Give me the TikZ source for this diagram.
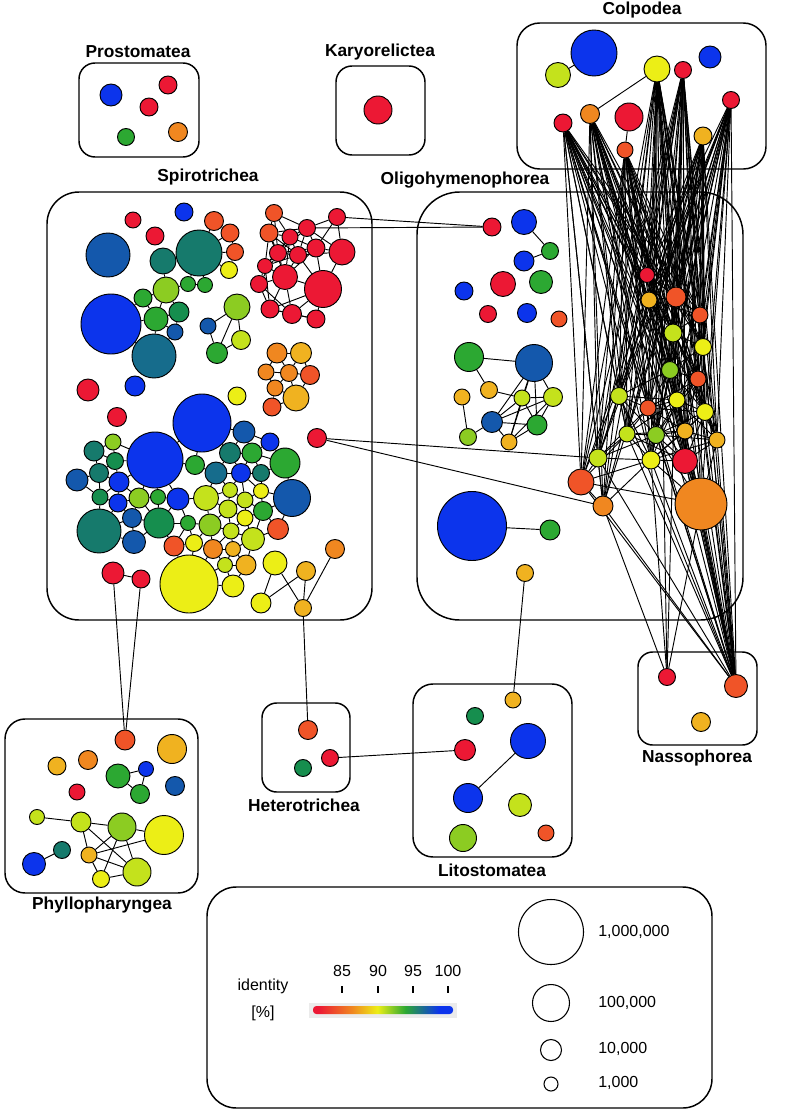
\documentclass[tikz,border=0pt]{standalone}
\usepackage{fontspec}
\setmainfont{Liberation Sans}
\pgfdeclarelayer{bg}
\pgfsetlayers{bg,main}
\definecolor{cRD}{RGB}{236,24,52}
\definecolor{cORD}{RGB}{240,84,40}
\definecolor{cOR}{RGB}{240,135,32}
\definecolor{cLOR}{RGB}{240,178,32}
\definecolor{cYL}{RGB}{236,238,22}
\definecolor{cYG}{RGB}{196,226,28}
\definecolor{cLG}{RGB}{140,204,34}
\definecolor{cGR}{RGB}{44,168,50}
\definecolor{cDG}{RGB}{22,142,78}
\definecolor{cTL}{RGB}{22,122,108}
\definecolor{cTB}{RGB}{22,108,140}
\definecolor{cDB}{RGB}{20,88,172}
\definecolor{cBL}{RGB}{12,52,236}
\pgfdeclarehorizontalshading{idbar}{100bp}{color(0bp)=(cRD); color(27bp)=(cRD); color(39bp)=(cOR); color(48bp)=(cYL); color(58bp)=(cGR); color(70bp)=(cBL); color(100bp)=(cBL)}
\tikzset{
 nd/.style={circle, draw=black, line width=0.7pt, inner sep=0pt, minimum size={1.5pt*#1}},
 edge/.style={black, line width=0.7pt},
 grp/.style={draw=black, line width=1.1pt},
 lab/.style={font=\fontsize{13}{15}\selectfont\bfseries, inner sep=0pt},
 leg/.style={font=\fontsize{12}{14}\selectfont, inner sep=0pt},
 ring/.style={circle, draw=black, line width=0.8pt, inner sep=0pt, minimum size=#1}
}
\newcommand\mknodes[2]{\foreach \a/\ax/\ay/\ar/\ac in #2 {\node[nd=\ar, fill=\ac] (#1\a) at (\ax,\ay) {};}}
\newcommand\prox[3]{\foreach \a/\ax/\ay/\ar/\ac in #1 {\foreach \b/\bx/\by/\br/\bc in #1 {\ifnum\a<\b\relax\pgfmathsetmacro\dd{veclen(\ax-\bx,\ay-\by)-\ar-\br}\ifdim\dd pt<#3pt\relax\draw[edge] (#2\a) -- (#2\b);\fi\fi}}}
\def\PL{1/111/95/11/cBL, 2/168/85/9/cRD, 3/149/107/9/cRD, 4/126/137/8.5/cGR, 5/178/132/9.5/cOR}
\def\CL{1/594/53/23/cBL, 2/558/75/12.5/cYG, 3/657/69/13/cYL, 4/683/70/8.5/cRD, 5/710/57/11/cBL, 6/731/100/8.5/cRD, 7/703/136/9/cLOR, 8/563/123/9/cRD, 9/590/114/9.5/cOR, 10/629/117/14/cRD, 11/625/150/8/cORD}
\def\SpZ{1/133/220/8/cRD, 2/184/212/9/cBL, 3/155/236/9/cRD, 4/108/255/22/cDB, 5/88/390/11/cRD, 6/135/386/10/cBL, 7/117/417/9.5/cRD, 8/237/396/9/cYL, 9/317/438/9.5/cRD}
\def\SpA{10/214/221/9.5/cORD, 11/230/233/9/cORD, 12/235/252/8.5/cORD, 13/229/270/8.5/cYL, 14/199/253/23/cTL, 15/163/261/13/cTL, 16/188/284/7.5/cGR, 17/205/285/7.5/cGR, 18/166/290/13/cLG, 19/143/298/9/cGR, 20/111/324/30/cBL, 21/156/319/12/cGR, 22/179/312/10/cDG, 23/175/332/8/cDB, 24/154/356/22/cTB}
\def\SpB{25/208/326/8/cDB, 26/237/307/13/cLG, 27/241/340/9.5/cYG, 28/217/353/10.5/cGR}
\def\SpR{29/337/217/8.5/cRD, 30/274/213/8.5/cORD, 31/269/233/9/cORD, 32/290/237/8/cRD, 33/307/228/8.5/cRD, 34/316/248/9/cRD, 35/342/252/13/cRD, 36/278/253/8.5/cRD, 37/298/255/8.5/cRD, 38/265/266/7.5/cRD, 39/285/277/12.5/cRD, 40/323/289/18.5/cRD, 41/259/284/8.5/cRD, 42/270/309/9/cRD, 43/292/314/9.5/cRD, 44/316/319/9/cRD}
\def\SpO{45/277/353/10/cOR, 46/301/353/10.5/cLOR, 47/266/372/8/cOR, 48/289/373/8.5/cOR, 49/310/375/9.5/cORD, 50/275/388/8/cOR, 51/296/398/13/cLOR, 52/272/407/9/cORD}
\def\SpD{53/202/423/29/cBL, 54/155/460/28/cBL, 55/244/432/11/cDB, 56/270/442/9/cBL, 57/285/463/15/cGR, 58/230/453/10.5/cTL, 59/252/453/10/cGR, 60/195/465/9.5/cGR, 61/216/473/11/cTB, 62/241/473/9.5/cBL, 63/261/473/8.5/cTL, 64/292/498/18.5/cDB, 65/113/442/8/cLG, 66/94/451/10/cTL, 67/115/461/8.5/cDG, 68/77/480/11/cDB, 69/99/473/9.5/cTL, 70/119/482/10/cBL, 71/100/497/8/cDG, 72/118/503/9/cBL, 73/139/498/10/cLG, 74/158/497/7.5/cGR, 75/178/499/11/cBL, 76/206/498/12.5/cYG, 77/230/490/7.5/cYG, 78/261/491/7.5/cYL, 79/245/500/8/cYG, 80/228/509/9/cYG, 81/245/518/8/cYL, 82/263/511/9.5/cGR, 83/99/531/22/cTL, 84/132/518/9.5/cDB, 85/159/523/15/cDG, 86/134/542/11.5/cDB, 87/188/523/7.5/cGR, 88/210/525/11/cLG, 89/231/531/8/cYG, 90/253/539/11.5/cYG, 91/278/529/10.5/cORD, 92/174/546/10/cORD, 93/194/543/8.5/cYL, 94/213/549/9.5/cOR, 95/233/549/7.5/cLOR, 96/225/565/7.5/cYG, 97/246/565/10/cLOR, 98/189/584/29/cYL, 99/233/586/11/cYL}
\def\SpE{100/275/563/12/cYL, 101/306/571/9.5/cLOR, 102/335/549/9.5/cOR, 103/261/603/10/cYL, 104/303/608/8.5/cLOR}
\def\SpF{105/113/573/11/cRD, 106/141/579/9/cRD}
\def\OL{1/492/227/9/cRD, 2/524/222/12.5/cBL, 3/550/251/8.5/cGR, 4/524/261/10/cBL, 5/541/282/11.5/cGR, 6/503/284/12.5/cRD, 7/464/291/9/cBL, 8/488/314/8.5/cRD, 9/527/313/9.5/cBL, 10/559/319/8/cORD, 11/469/357/14.5/cGR, 12/534/363/18.5/cDB, 13/489/390/8.5/cLOR, 14/462/397/8/cLOR, 15/522/398/8/cYG, 16/553/397/9.5/cYG, 17/492/422/10.5/cDB, 18/537/425/10/cGR, 19/468/437/8.5/cLG, 20/509/442/8/cLOR, 21/472/526/34.5/cBL, 22/550/530/10/cGR, 23/525/573/8.5/cLOR}
\def\KL{1/647/275/7.5/cRD, 2/649/300/8/cLOR, 3/676/297/10/cORD, 4/700/315/8/cORD, 5/673/333/9/cYG, 6/703/347/8.5/cYL, 7/670/370/8.5/cLG, 8/698/379/8/cORD, 9/619/396/8.5/cYG, 10/648/408/8/cORD, 11/677/400/8/cYL, 12/705/412/8.5/cYL, 13/627/434/8/cYG, 14/656/435/8.5/cLG, 15/685/431/8/cLOR, 16/717/440/8/cLOR, 17/598/458/9/cYG, 18/651/460/9/cYL, 19/685/461/12.5/cRD, 20/581/482/13/cORD, 21/603/506/10/cOR, 22/701/504/26/cOR}
\def\FL{1/125/740/10/cORD, 2/172/749/14.5/cLOR, 3/88/760/9.5/cOR, 4/57/766/9/cLOR, 5/118/776/12/cGR, 6/146/769/7.5/cBL, 7/140/794/9.5/cGR, 8/175/786/9.5/cDB, 9/77/792/8/cRD, 10/37/817/7.5/cYG, 11/81/822/10/cYG, 12/122/827/14/cLG, 13/164/835/19.5/cYL, 14/62/850/8.5/cTL, 15/34/864/11.5/cBL, 16/89/855/8/cLOR, 17/137/872/14/cYG, 18/101/879/8.5/cYL}
\def\LL{1/513/700/8/cLOR, 2/475/716/8.5/cDG, 3/528/741/17.5/cBL, 4/465/750/10.5/cRD, 5/468/798/14.5/cBL, 6/520/805/11.5/cYG, 7/463/838/13.5/cLG, 8/546/833/8/cORD}
\def\HL{1/308/730/9.5/cORD, 2/330/758/8.5/cRD, 3/303/768/8.5/cDG}
\def\NL{1/667/677/8.5/cRD, 2/736/686/11.5/cORD, 3/701/722/9.5/cLOR}
\begin{document}
\begin{tikzpicture}[x=0.75pt,y=-0.75pt]
\useasboundingbox (0,0) rectangle (787,1114);
% nodes
\mknodes{p}{\PL}
\node[nd=14, fill=cRD] (q1) at (378,110) {};
\mknodes{c}{\CL}
\mknodes{s}{\SpZ}\mknodes{s}{\SpA}\mknodes{s}{\SpB}\mknodes{s}{\SpR}
\mknodes{s}{\SpO}\mknodes{s}{\SpD}\mknodes{s}{\SpE}\mknodes{s}{\SpF}
\mknodes{o}{\OL}
\mknodes{k}{\KL}
\mknodes{f}{\FL}
\mknodes{l}{\LL}
\mknodes{h}{\HL}
\mknodes{n}{\NL}
% labels
\node[lab] (Lpro) at (138,52) {Prostomatea};
\node[lab] (Lkar) at (380,52) {Karyorelictea};
\node[lab] (Lcol) at (642,10) {Colpodea};
\node[lab] (Lspi) at (208,177) {Spirotrichea};
\node[lab] (Loli) at (465,180) {Oligohymenophorea};
\node[lab] (Lnas) at (697,758) {Nassophorea};
\node[lab] (Lhet) at (304,805) {Heterotrichea};
\node[lab] (Llit) at (492,870) {Litostomatea};
\node[lab] (Lphy) at (102,905) {Phyllopharyngea};
% legend
\node[leg] (Lid) at (263,986) {identity};
\node[leg] (Lpc) at (263,1013) {[\%]};
\fill[black!8] (309,1003) rectangle (457,1018);
\shade[shading=idbar, rounded corners=2.5pt] (313,1006) rectangle (453,1014);
\foreach \x/\t in {342/85,378/90,413/95,448/100} {
  \draw[line width=0.8pt] (\x,986) -- (\x,993);
  \node[leg] (tk\t) at (\x,971) {\t};
}
\node[ring=48.75pt] (r1) at (551,932) {};
\node[ring=27.75pt] (r2) at (551,1003) {};
\node[ring=15.75pt] (r3) at (551,1050) {};
\node[ring=10.5pt] (r4) at (551,1084) {};
\node[leg, anchor=west] (Lr1) at (598,932) {1,000,000};
\node[leg, anchor=west] (Lr2) at (598,1003) {100,000};
\node[leg, anchor=west] (Lr3) at (598,1049) {10,000};
\node[leg, anchor=west] (Lr4) at (598,1083) {1,000};
\begin{pgfonlayer}{bg}
% group boxes
\draw[grp, rounded corners=12pt] (79,63) rectangle (199,157);
\draw[grp, rounded corners=12pt] (336,66) rectangle (425,155);
\draw[grp, rounded corners=17pt] (517,23) rectangle (766,169);
\draw[grp, rounded corners=24pt] (47,192) rectangle (372,620);
\draw[grp, rounded corners=32pt] (417,192) rectangle (743,620);
\draw[grp, rounded corners=11pt] (638,652) rectangle (757,745);
\draw[grp, rounded corners=11pt] (262,703) rectangle (350,792);
\draw[grp, rounded corners=15pt] (413,684) rectangle (572,857);
\draw[grp, rounded corners=15pt] (5,719) rectangle (198,893);
\draw[grp, rounded corners=22pt] (207,887) rectangle (712,1108);
% spirotrichea edges
\prox{\SpA}{s}{10}
\prox{\SpR}{s}{30}
\prox{\SpO}{s}{12}
\prox{\SpD}{s}{10}
\foreach \u/\v in {25/26,25/28,26/28,26/27,28/27,100/103,100/104,101/104,101/103,102/104,105/106}
  \draw[edge] (s\u) -- (s\v);
% oligohymenophorea edges
\foreach \u/\v in {2/3,3/4,11/12,11/13,13/15,14/19,17/19,17/15,17/16,17/18,17/20,12/15,12/16,12/17,12/18,12/20,15/16,15/18,15/20,16/18,16/20,18/20,21/22}
  \draw[edge] (o\u) -- (o\v);
% colpodea edges
\draw[edge] (c1) -- (c2);
\draw[edge] (c3) -- (c9);
\draw[edge] (c10) -- (c11);
% right cluster
\prox{\KL}{k}{55}
\draw[edge] (k20) -- (k22);
\foreach \s in {c3,c4,c6,c7,c8,c9,c11} {
  \foreach \t/\tx/\ty/\tr/\tc in \KL {\draw[edge] (\s) -- (k\t);}
  \draw[edge] (\s) -- (n2);
}
\draw[edge] (c3) -- (n1);
\draw[edge] (c4) -- (n1);
\foreach \t/\tx/\ty/\tr/\tc in \KL {\draw[edge] (n2) -- (k\t);}
\foreach \t in {18,21,22} {\draw[edge] (n1) -- (k\t);}
% cross-group edges
\draw[edge] (s29) -- (o1);
\draw[edge] (s33) -- (o1);
\draw[edge] (s9) -- (k17);
\draw[edge] (s9) -- (k21);
\draw[edge] (s104) -- (h1);
\draw[edge] (s105) -- (f1);
\draw[edge] (s106) -- (f1);
\draw[edge] (o23) -- (l1);
\draw[edge] (h2) -- (l4);
\draw[edge] (l3) -- (l5);
% phyllopharyngea edges
\foreach \u/\v in {5/6,6/7,5/7,10/11,11/12,11/16,11/17,12/16,12/17,12/13,12/18,13/16,16/18,16/17,18/17,14/15}
  \draw[edge] (f\u) -- (f\v);
\end{pgfonlayer}
\end{tikzpicture}
\end{document}
